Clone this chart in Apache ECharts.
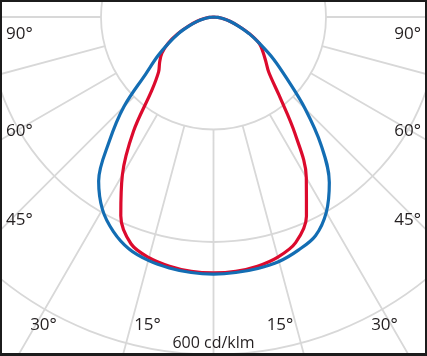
<!DOCTYPE html>
<html>
<head>
<meta charset="utf-8">
<script src="https://cdn.jsdelivr.net/npm/echarts@6/dist/echarts.min.js"></script>
<style>
  html, body { margin: 0; padding: 0; background: #ffffff; }
  #chart { width: 427px; height: 356px; }
</style>
</head>
<body>
<div id="chart"></div>
<script>
// ---- DATA ----
// Angles in degrees from nadir (negative = left half, positive = right half)
const angles = [-90, -85, -80, -75, -70, -65, -60, -55, -50, -45, -40, -35, -30, -25, -20, -15, -10, -5,
                0, 5, 10, 15, 20, 25, 30, 35, 40, 45, 50, 55, 60, 65, 70, 75, 80, 85, 90];
// Intensities in cd/klm
const redValues = [0, 8, 18, 31, 48, 70, 93, 112, 125, 138, 171, 248, 324, 390, 429, 443, 450, 454,
                   455, 454, 450, 442, 427, 391, 330, 252, 181, 139, 121, 107, 94, 71, 48, 31, 18, 8, 0];
const blueValues = [0, 7, 17, 30, 46, 68, 91, 121, 157, 225, 288, 356, 395, 421, 439, 448, 453, 456,
                    457, 456, 454, 450, 441, 429, 401, 359, 298, 230, 170, 130, 95, 70, 47, 31, 18, 8, 0];
// Tick labels
const sideTickLabels = ['90°', '60°', '45°'];
const bottomTickLabels = ['30°', '15°', '15°', '30°'];
const unitLabel = '600 cd/klm';
const radiusTicks = { min: 200, max: 800, step: 200 };

// ---- LAYOUT ----
const CX = 213.5, CY = 17, R_OUT = 450, R_IN = 112.5;
const sideLabelY = [34.5, 131, 220.5];
const bottomLabelX = [43.5, 147.5, 280, 384.5];
const bottomLabelY = 325;
const TEXT = '#231f20';
const GRID = '#d8d8d8';

const chart = echarts.init(document.getElementById('chart'), null, { renderer: 'canvas' });

function toPolar(values) {
  return values.map((v, i) => [v, angles[i]]);
}

const graphics = [];
sideTickLabels.forEach((t, i) => {
  graphics.push({ type: 'text', x: 6, y: sideLabelY[i], z: 10,
    style: { text: t, font: '17px "Open Sans"', fill: TEXT, align: 'left', verticalAlign: 'middle' } });
  graphics.push({ type: 'text', x: 421, y: sideLabelY[i], z: 10,
    style: { text: t, font: '17px "Open Sans"', fill: TEXT, align: 'right', verticalAlign: 'middle' } });
});
bottomTickLabels.forEach((t, i) => {
  graphics.push({ type: 'text', x: bottomLabelX[i], y: bottomLabelY, z: 10,
    style: { text: t, font: '17px "Open Sans"', fill: TEXT, align: 'center', verticalAlign: 'middle' } });
});
graphics.push({ type: 'text', x: CX, y: 343.5, z: 10,
  style: { text: unitLabel, font: '16px "Open Sans"', fill: TEXT, align: 'center', verticalAlign: 'middle' } });
// frame
graphics.push({ type: 'rect', z: 20, shape: { x: 1, y: 1, width: 425, height: 354 },
  style: { fill: 'none', stroke: '#1c1c1c', lineWidth: 2 } });
graphics.push({ type: 'rect', z: 20, shape: { x: 0, y: 353, width: 427, height: 3 },
  style: { fill: '#1c1c1c' } });

const option = {
  animation: false,
  backgroundColor: '#ffffff',
  polar: [
    { center: [CX, CY], radius: [R_IN, R_OUT] },
    { center: [CX, CY], radius: R_OUT }
  ],
  angleAxis: [
    { polarIndex: 0, type: 'value', min: -180, max: 180, interval: 15, startAngle: 90, clockwise: false,
      axisLine: { show: false }, axisTick: { show: false }, axisLabel: { show: false },
      splitLine: { show: true, lineStyle: { color: GRID, width: 1.8 } } },
    { polarIndex: 1, type: 'value', min: -180, max: 180, interval: 15, startAngle: 90, clockwise: false,
      show: false }
  ],
  radiusAxis: [
    { polarIndex: 0, type: 'value', min: radiusTicks.min, max: radiusTicks.max, interval: radiusTicks.step,
      axisLine: { show: false }, axisTick: { show: false }, axisLabel: { show: false },
      splitLine: { show: true, lineStyle: { color: GRID, width: 1.8 } } },
    { polarIndex: 1, type: 'value', min: 0, max: radiusTicks.max, show: false }
  ],
  series: [
    { type: 'line', coordinateSystem: 'polar', polarIndex: 1, data: toPolar(redValues),
      showSymbol: false, smooth: 0.35, clip: false, z: 3,
      lineStyle: { color: '#dc0a2d', width: 3.2 } },
    { type: 'line', coordinateSystem: 'polar', polarIndex: 1, data: toPolar(blueValues),
      showSymbol: false, smooth: 0.35, clip: false, z: 4,
      lineStyle: { color: '#136db3', width: 3.2 } }
  ],
  graphic: graphics
};
chart.setOption(option);
</script>
</body>
</html>
